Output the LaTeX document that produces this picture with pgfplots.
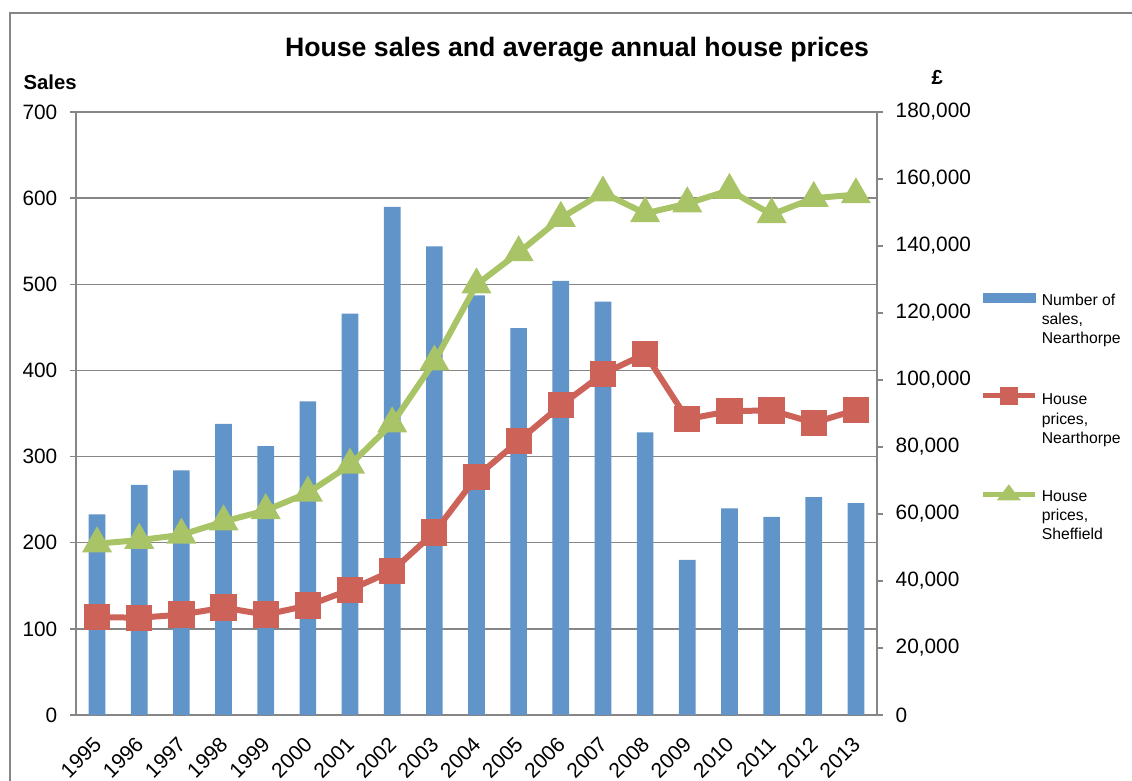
\documentclass[border=0pt]{standalone}
\usepackage{pgfplots}
\pgfplotsset{compat=1.18}
\usepackage{fontspec}
\setmainfont{Liberation Sans}
\definecolor{barblue}{RGB}{97,148,200}
\definecolor{linered}{RGB}{205,98,89}
\definecolor{linegreen}{RGB}{168,196,102}
\definecolor{axgray}{RGB}{134,134,134}
\pgfplotstableread{
x sales near sheff
0 233 29230 51150
1 267 29030 52200
2 284 29960 53770
3 338 32050 57730
4 312 29960 61080
5 364 32680 66300
6 466 37380 74650
7 590 43020 86970
8 544 54500 105440
9 487 71100 128450
10 449 81840 138050
11 504 92430 148320
12 480 101840 155890
13 328 107780 149730
14 180 88320 152650
15 240 90700 156650
16 230 90920 149410
17 253 87240 154270
18 246 91030 155350
}\datatable
\begin{document}
\begin{tikzpicture}
\useasboundingbox (0,0) rectangle (849pt,585.75pt);
\draw[axgray,line width=1.1pt] (7.5pt,-10pt) -- (7.5pt,576pt) -- (860pt,576pt);
\begin{axis}[
  at={(57pt,49.5pt)}, anchor=south west,
  scale only axis, width=600.75pt, height=452.25pt,
  xmin=-0.5, xmax=18.5, ymin=0, ymax=700,
  ytick={0,100,...,700},
  xtick={0,...,18},
  xticklabels={1995,1996,1997,1998,1999,2000,2001,2002,2003,2004,2005,2006,2007,2008,2009,2010,2011,2012,2013},
  minor xtick={-0.5,0.5,...,18.5},
  axis y line*=left, axis x line*=bottom,
  axis line style={axgray,line width=1.1pt,-},
  tick align=outside,
  major tick length=4.5pt, minor tick length=4.5pt,
  tick style={axgray,line width=1pt},
  xtick style={draw=none},
  minor x tick style={axgray,line width=1pt},
  ymajorgrids, grid style={axgray,line width=1pt},
  /pgf/number format/assume math mode=true,
  yticklabel style={font=\fontsize{15.6}{18}\selectfont, anchor=east, xshift=-6pt},
  xticklabel style={font=\fontsize{15.8}{18}\selectfont, rotate=45, anchor=east, xshift=-6.9pt, yshift=-10.8pt},
  ylabel={Sales},
  ylabel style={rotate=-90, at={(axis description cs:-0.0712,1.0365)}, anchor=base west, font=\bfseries\fontsize{15.2}{18}\selectfont},
  title={House sales and average annual house prices},
  title style={at={(axis description cs:0.6255,1.078)}, anchor=base, font=\bfseries\fontsize{20}{24}\selectfont},
]
\addplot[ybar, bar width=12.5pt, fill=barblue, draw=none] table[x=x,y=sales]{\datatable};
\end{axis}
\begin{axis}[
  at={(57pt,49.5pt)}, anchor=south west,
  scale only axis, width=600.75pt, height=452.25pt,
  xmin=-0.5, xmax=18.5, ymin=0, ymax=180000,
  ytick={0,20000,...,180000},
  scaled y ticks=false,
  axis x line=none, axis y line*=right,
  axis line style={axgray,line width=1.1pt,-},
  tick align=outside, major tick length=4.5pt,
  tick style={axgray,line width=1pt},
  /pgf/number format/.cd, fixed, 1000 sep={,}, assume math mode=true, /pgfplots/.cd,
  yticklabel style={font=\fontsize{15.6}{18}\selectfont, anchor=west, xshift=6pt},
  ylabel={£},
  ylabel style={rotate=-90, at={(axis description cs:1.0624,1.0448)}, anchor=base west, font=\bfseries\fontsize{15.2}{18}\selectfont},
  clip=false,
  legend style={at={(axis description cs:1.1286,0.701)}, anchor=north west, draw=none, fill=none, inner sep=0pt,
    font=\fontsize{11.8}{14.5}\selectfont, row sep=29.6pt,
    nodes={align=left, inner sep=1pt}},
  legend cell align=left,
]
\addlegendimage{legend image code/.code={\fill[barblue] (0pt,13pt) rectangle (39pt,20pt); \path (41pt,16pt);}}
\addlegendentry{Number of\\sales,\\Nearthorpe}
\addplot[linered, line width=4.5pt, mark=square*, mark size=7.6pt, mark options={solid},
  legend image code/.code={\draw[linered,line width=3.8pt] (0pt,18pt) -- (39pt,18pt); \fill[linered] (15pt,13.5pt) rectangle (24pt,22.5pt); \path (41pt,18pt);}]
  table[x=x,y=near]{\datatable};
\addlegendentry{House\\prices,\\Nearthorpe}
\addplot[linegreen, line width=4.5pt, mark=triangle*, mark size=8.5pt, mark options={solid},
  legend image code/.code={\draw[linegreen,line width=3.8pt] (0pt,16pt) -- (39pt,16pt); \fill[linegreen] (19.5pt,20pt) -- (15pt,14pt) -- (24pt,14pt) -- cycle; \path (41pt,16pt);}]
  table[x=x,y=sheff]{\datatable};
\addlegendentry{House\\prices,\\Sheffield}
\end{axis}
\end{tikzpicture}
\end{document}
